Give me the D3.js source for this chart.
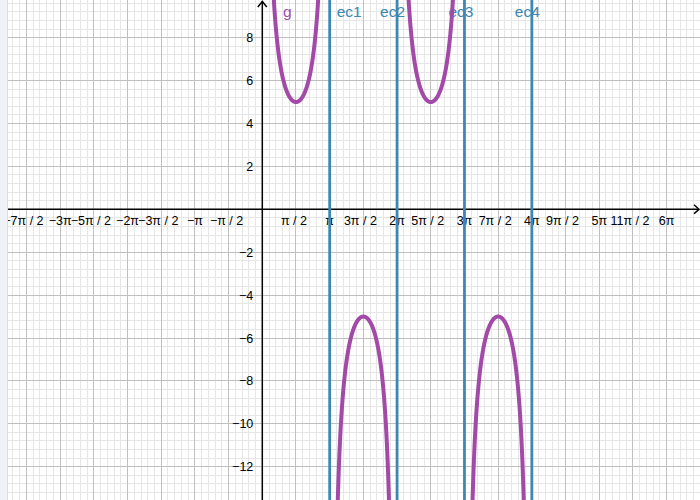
<!DOCTYPE html>
<html>
<head>
<meta charset="utf-8">
<script src="https://cdn.jsdelivr.net/npm/d3@7"></script>
<style>
  html, body { margin: 0; padding: 0; background: #fff; }
  svg { display: block; font-family: "Liberation Sans", Arial, sans-serif; }
</style>
</head>
<body>
<svg id="chart" width="700" height="500"></svg>
<script>
// ---- data ----
const PI = Math.PI;
const xTickMultiples = [-7,-6,-5,-4,-3,-2,-1,1,2,3,4,5,6,7,8,9,10,11,12]; // times π/2
const xTickLabels = ["−7π / 2","−3π","−5π / 2","−2π","−3π / 2","−π","−π / 2",
                     "π / 2","π","3π / 2","2π","5π / 2","3π","7π / 2","4π","9π / 2","5π","11π / 2","6π"];
const yTickValues = [8,6,4,2,-2,-4,-6,-8,-10,-12];
const yTickLabels = ["8","6","4","2","−2","−4","−6","−8","−10","−12"];
const gAmplitude = 5;               // g(x) = 5 / sin(x)
const gDomain = [0, 4 * PI];
const asymptoteNames = ["ec1","ec2","ec3","ec4"];
const asymptoteX = [PI, 2 * PI, 3 * PI, 4 * PI];

// ---- layout ----
const W = 700, H = 500;
const originX = 262.3, originY = 209.3, unit = 21.45;
const asymLabelDx = [7, -17, -16, -17];

const x = d3.scaleLinear().domain([-originX / unit, (W - originX) / unit]).range([0, W]);
const y = d3.scaleLinear().domain([-(H - originY) / unit, originY / unit]).range([H, 0]);

const svg = d3.select("#chart");
const [xmin, xmax] = x.domain();
const [ymin, ymax] = y.domain();

// grid
const minorX = [], majorX = [], minorY = [], majorY = [];
for (let k = Math.ceil(xmin / (PI / 10)); k * PI / 10 <= xmax; k++) {
  (k % 5 === 0 ? majorX : minorX).push(k * PI / 10);
}
for (let k = Math.ceil(ymin / 0.4); k * 0.4 <= ymax; k++) {
  (k % 5 === 0 ? majorY : minorY).push(k * 0.4);
}
const grid = svg.append("g").attr("shape-rendering", "crispEdges");
grid.selectAll(".mx").data(minorX).join("line")
  .attr("x1", d => x(d)).attr("x2", d => x(d)).attr("y1", 0).attr("y2", H)
  .attr("stroke", "#e6e6e6").attr("stroke-width", 1);
grid.selectAll(".my").data(minorY).join("line")
  .attr("y1", d => y(d)).attr("y2", d => y(d)).attr("x1", 0).attr("x2", W)
  .attr("stroke", "#e6e6e6").attr("stroke-width", 1);
grid.selectAll(".Mx").data(majorX).join("line")
  .attr("x1", d => x(d)).attr("x2", d => x(d)).attr("y1", 0).attr("y2", H)
  .attr("stroke", "#c0c0c0").attr("stroke-width", 1);
grid.selectAll(".My").data(majorY).join("line")
  .attr("y1", d => y(d)).attr("y2", d => y(d)).attr("x1", 0).attr("x2", W)
  .attr("stroke", "#c0c0c0").attr("stroke-width", 1);

// axes
const ax = svg.append("g").attr("stroke", "#000").attr("fill", "none").attr("stroke-width", 1.5);
ax.append("line").attr("x1", 0).attr("x2", W - 1).attr("y1", y(0)).attr("y2", y(0));
ax.append("line").attr("x1", x(0)).attr("x2", x(0)).attr("y1", 1).attr("y2", H);
ax.append("path").attr("d", `M${W - 6},${y(0) - 4.5} L${W - 1},${y(0)} L${W - 6},${y(0) + 4.5}`);
ax.append("path").attr("d", `M${x(0) - 4.5},${7} L${x(0)},${1.5} L${x(0) + 4.5},${7}`);

// tick labels
svg.append("g").selectAll("text").data(xTickMultiples).join("text")
  .attr("x", d => x(d * PI / 2) - (Math.abs(d) % 2 === 1 && Math.abs(d) > 1 ? 3 : (Math.abs(d) === 1 ? 2 : 0)))
  .attr("y", y(0) + 16)
  .attr("text-anchor", "middle").attr("font-size", 12.5).attr("fill", "#000")
  .text((d, i) => xTickLabels[i]);
svg.append("g").selectAll("text").data(yTickValues).join("text")
  .attr("x", x(0) - 9).attr("y", d => y(d) + 4.5)
  .attr("text-anchor", "end").attr("font-size", 12.5).attr("fill", "#000")
  .text((d, i) => yTickLabels[i]);

// clip
svg.append("clipPath").attr("id", "clip").append("rect")
  .attr("x", 0).attr("y", 0).attr("width", W).attr("height", H);

// asymptotes
const blue = "#3d87b2";
svg.append("g").attr("clip-path", "url(#clip)").selectAll("line").data(asymptoteX).join("line")
  .attr("x1", d => x(d)).attr("x2", d => x(d)).attr("y1", 0).attr("y2", H)
  .attr("stroke", blue).attr("stroke-width", 2.8);
svg.append("g").selectAll("text").data(asymptoteX).join("text")
  .attr("x", (d, i) => x(d) + asymLabelDx[i]).attr("y", 17)
  .attr("font-size", 15.5).attr("fill", blue)
  .text((d, i) => asymptoteNames[i]);

// function g
const purple = "#a34aa9";
const segments = [];
for (let k = 0; k < 4; k++) {
  const a = gDomain[0] + k * PI, b = a + PI;
  const pts = d3.range(0, 1001).map(i => a + 0.002 + (b - a - 0.004) * i / 1000)
    .map(t => [t, gAmplitude / Math.sin(t)]);
  segments.push(pts);
}
const line = d3.line().x(d => x(d[0])).y(d => y(Math.max(-40, Math.min(40, d[1]))));
svg.append("g").attr("clip-path", "url(#clip)").selectAll("path").data(segments).join("path")
  .attr("d", line).attr("fill", "none").attr("stroke", purple)
  .attr("stroke-width", 4).attr("stroke-linejoin", "round");
svg.append("text").attr("x", 283).attr("y", 17).attr("font-size", 15.5).attr("fill", purple).text("g");

// left strip
svg.append("rect").attr("x", 0).attr("y", 0).attr("width", 7).attr("height", H).attr("fill", "#eef1f5");
svg.append("line").attr("x1", 7.5).attr("x2", 7.5).attr("y1", 0).attr("y2", H).attr("stroke", "#d9dee4");
</script>
</body>
</html>
